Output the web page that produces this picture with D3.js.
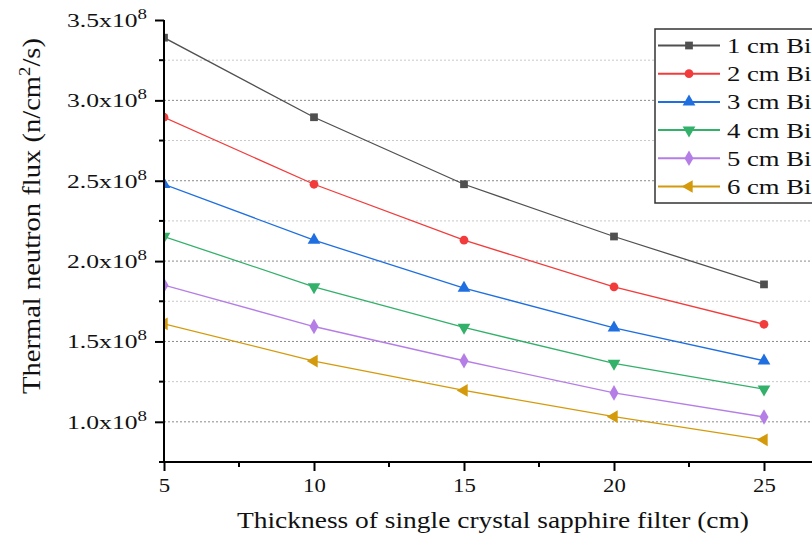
<!DOCTYPE html>
<html>
<head>
<meta charset="utf-8">
<script src="https://cdn.jsdelivr.net/npm/d3@7"></script>
<style>
  body { margin: 0; background: #fff; }
</style>
</head>
<body>
<div class="chart"></div>
<script>
// data (flux in units of 1e8 n/cm2/s)
var thickness = [5, 10, 15, 20, 25];
var seriesNames = ["1 cm Bi", "2 cm Bi", "3 cm Bi", "4 cm Bi", "5 cm Bi", "6 cm Bi"];
var bi1 = [3.39, 2.895, 2.478, 2.153, 1.855];
var bi2 = [2.895, 2.478, 2.13, 1.84, 1.607];
var bi3 = [2.478, 2.13, 1.832, 1.585, 1.38];
var bi4 = [2.153, 1.84, 1.587, 1.363, 1.203];
var bi5 = [1.85, 1.593, 1.38, 1.18, 1.03];
var bi6 = [1.61, 1.378, 1.195, 1.032, 0.888];
var yTickValues = [1.0, 1.5, 2.0, 2.5, 3.0, 3.5];

var allSeries = [bi1, bi2, bi3, bi4, bi5, bi6];
var colors = ["#505050", "#f23c3c", "#1f6fe0", "#33b06a", "#b57ee6", "#d49a0c"];
var serif = "'Liberation Serif', 'Times New Roman', serif";

var svgWidth = 812, svgHeight = 536;
var margin = {top: 20, right: 0, bottom: 74, left: 164};
var plotH = svgHeight - margin.top - margin.bottom;

var svg = d3.select(".chart").append("svg")
  .attr("width", svgWidth)
  .attr("height", svgHeight);

// x: 5 -> 164px, 25 -> 763px, axis runs off the right edge
var x = d3.scaleLinear()
  .domain([5, 5 + (svgWidth - margin.left) / 150 * 5])
  .range([margin.left, svgWidth]);

var y = d3.scaleLinear()
  .domain([0.75, 3.5])
  .range([margin.top + plotH, margin.top]);

// clip the data to the plot area (first markers sit half on the axis)
svg.append("defs").append("clipPath")
  .attr("id", "plotClip")
  .append("rect")
  .attr("x", margin.left).attr("y", 0)
  .attr("width", svgWidth - margin.left).attr("height", y(0.75));

// grid lines (dotted), major ones darker
var gridVals = d3.range(1.0, 3.5, 0.25);
svg.append("g").selectAll("line")
  .data(gridVals)
  .enter().append("line")
  .attr("x1", margin.left).attr("x2", svgWidth)
  .attr("y1", d => y(d)).attr("y2", d => y(d))
  .attr("stroke", d => (Math.abs(d * 2 - Math.round(d * 2)) < 1e-6) ? "#8a8a8a" : "#c8c8c8")
  .attr("stroke-width", 1)
  .attr("stroke-dasharray", "2,2");

// minor ticks
var yMinor = [0.75, 1.25, 1.75, 2.25, 2.75, 3.25];
svg.append("g").selectAll("line")
  .data(yMinor)
  .enter().append("line")
  .attr("x1", margin.left - 5).attr("x2", margin.left)
  .attr("y1", d => y(d)).attr("y2", d => y(d))
  .attr("stroke", "#000").attr("stroke-width", 2);

var xMinor = [7.5, 12.5, 17.5, 22.5];
svg.append("g").selectAll("line")
  .data(xMinor)
  .enter().append("line")
  .attr("x1", d => x(d)).attr("x2", d => x(d))
  .attr("y1", y(0.75)).attr("y2", y(0.75) + 5)
  .attr("stroke", "#000").attr("stroke-width", 2);

// series lines + markers
function markerPath(i) {
  var types = [d3.symbolSquare, d3.symbolCircle, d3.symbolTriangle, d3.symbolTriangle, d3.symbolDiamond, d3.symbolTriangle];
  var sizes = [60, 60, 70, 70, 70, 70];
  return d3.symbol().type(types[i]).size(sizes[i])();
}
var rotations = [0, 0, 0, 180, 0, -90];

var line = d3.line()
  .x((d, i) => x(thickness[i]))
  .y(d => y(d));

var dataLayer = svg.append("g").attr("clip-path", "url(#plotClip)");
allSeries.forEach(function(vals, i) {
  var g = dataLayer.append("g");
  g.append("path")
    .datum(vals)
    .attr("d", line)
    .attr("fill", "none")
    .attr("stroke", colors[i])
    .attr("stroke-width", 1.3);
  g.selectAll("path.mark")
    .data(vals)
    .enter().append("path")
    .attr("class", "mark")
    .attr("d", markerPath(i))
    .attr("transform", (d, j) => `translate(${x(thickness[j])},${y(d)}) rotate(${rotations[i]})`)
    .attr("fill", colors[i]);
});

// x axis
var xAxis = svg.append("g")
  .attr("transform", `translate(0, ${y(0.75)})`)
  .call(d3.axisBottom(x).tickValues(thickness).tickSize(9).tickPadding(8).tickFormat(d3.format("d")));
xAxis.select(".domain").attr("stroke-width", 2).attr("d", `M${margin.left},0H${svgWidth}`);
xAxis.selectAll(".tick line").attr("stroke-width", 2);
xAxis.selectAll(".tick text")
  .style("font-family", serif)
  .attr("font-size", 19)
  .attr("fill", "#111")
  .attr("transform", "scale(1.2,1)");

// y axis
var yAxis = svg.append("g")
  .attr("transform", `translate(${margin.left}, 0)`)
  .call(d3.axisLeft(y).tickValues(yTickValues).tickSize(9).tickPadding(0).tickFormat(""));
yAxis.select(".domain").attr("stroke-width", 2).attr("d", `M0,${y(3.5)}V${y(0.75)}`);
yAxis.selectAll(".tick line").attr("stroke-width", 2);

var yLabels = svg.append("g").selectAll("text")
  .data(yTickValues)
  .enter().append("text")
  .attr("transform", d => `translate(147, ${y(d) + 7}) scale(1.35,1)`)
  .attr("text-anchor", "end")
  .style("font-family", serif)
  .attr("fill", "#111")
  .attr("font-size", 19);
yLabels.append("tspan").text(d => d3.format(".1f")(d) + "x10");
yLabels.append("tspan").attr("dy", -8).attr("font-size", 14).text("8");

// legend
var legend = svg.append("g");
legend.append("rect")
  .attr("x", 655).attr("y", 29)
  .attr("width", 200).attr("height", 174)
  .attr("fill", "#fff")
  .attr("stroke", "#333")
  .attr("stroke-width", 1.5);

seriesNames.forEach(function(name, i) {
  var ly = 45.5 + i * 28.2;
  legend.append("line")
    .attr("x1", 658).attr("x2", 720)
    .attr("y1", ly).attr("y2", ly)
    .attr("stroke", colors[i])
    .attr("stroke-width", 2);
  legend.append("path")
    .attr("d", markerPath(i))
    .attr("transform", `translate(689,${ly}) rotate(${rotations[i]})`)
    .attr("fill", colors[i]);
  legend.append("text")
    .attr("transform", `translate(727, ${ly + 7.5}) scale(1.27,1)`)
    .style("font-family", serif)
    .attr("fill", "#111")
    .attr("font-size", 21)
    .text(name);
});

// axis titles
svg.append("text")
  .attr("x", 493).attr("y", 528)
  .attr("text-anchor", "middle")
  .style("font-family", serif)
  .attr("fill", "#111")
  .attr("font-size", 23)
  .attr("textLength", 512)
  .attr("lengthAdjust", "spacingAndGlyphs")
  .text("Thickness of single crystal sapphire filter (cm)");

var yTitle = svg.append("text")
  .attr("transform", "translate(40, 216) rotate(-90)")
  .attr("text-anchor", "middle")
  .style("font-family", serif)
  .attr("fill", "#111")
  .attr("font-size", 26)
  .attr("textLength", 356)
  .attr("lengthAdjust", "spacingAndGlyphs");
yTitle.append("tspan").text("Thermal neutron flux (n/cm");
yTitle.append("tspan").attr("dy", -10).attr("font-size", 17).text("2");
yTitle.append("tspan").attr("dy", 10).text("/s)");
</script>
</body>
</html>
